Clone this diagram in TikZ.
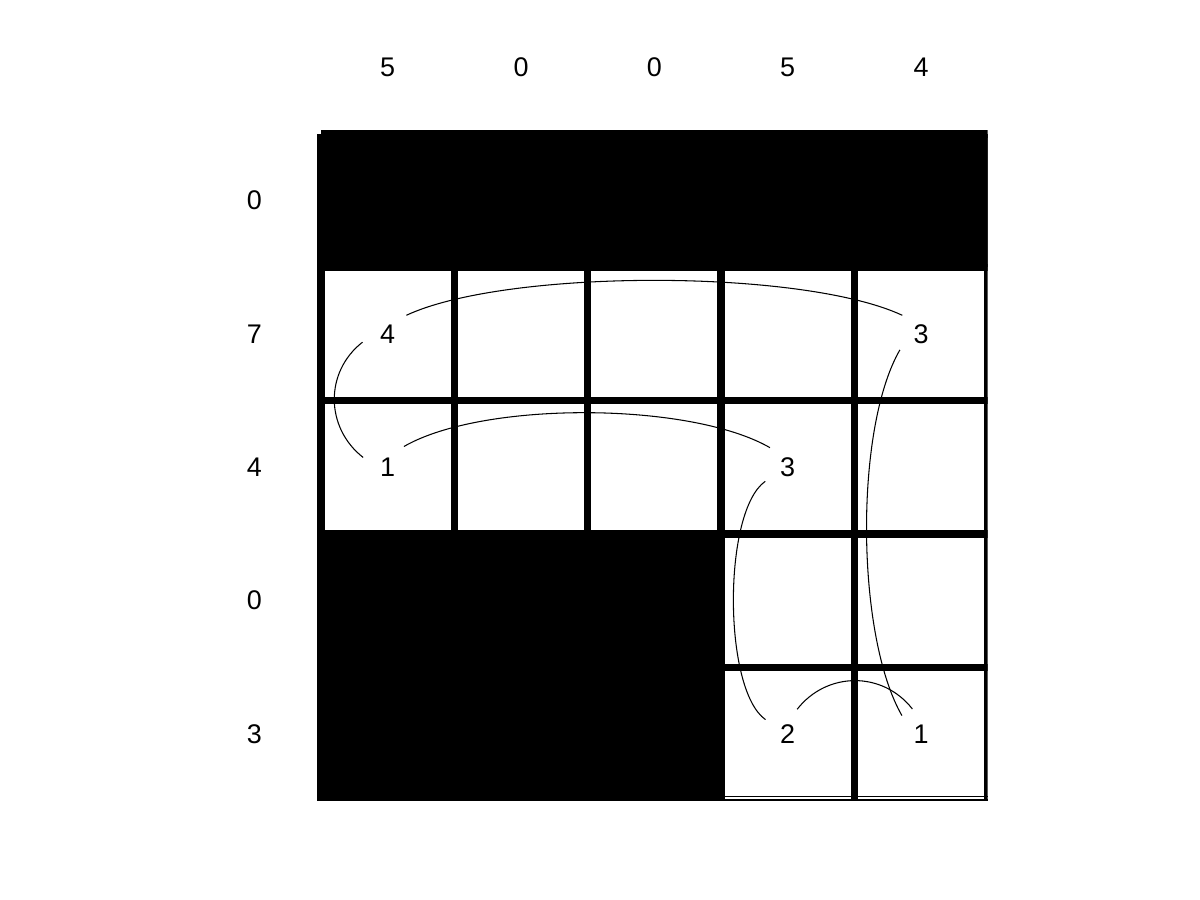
\documentclass[tikz,border=0pt]{standalone}
\usepackage{fontspec}
\setmainfont{Liberation Sans}

\begin{document}
\begin{tikzpicture}[x=2cm,y=2cm,
    num/.style={circle,minimum size=0.78cm,inner sep=0pt,font=\fontsize{11.5}{14}\selectfont},
    gridline/.style={line width=3.2pt},
    link/.style={line width=0.45pt}]
  \useasboundingbox (-1.9075,0.505) rectangle (7.0925,-6.245);
  % clues: top row and left column
  \foreach \i/\v in {1/5,2/0,3/0,4/5,5/4} \node[num] (col\i) at (\i,0) {\v};
  \foreach \j/\v in {1/0,2/7,3/4,4/0,5/3} \node[num] (row\j) at (0,-\j) {\v};
  % black cells, grid drawn over them
  \begin{scope}
    \clip (0.4,-0.4) rectangle (5.5,-5.5);
    \fill (0.5,-0.5) rectangle (5.5,-1.5);
    \fill (0.5,-3.5) rectangle (3.5,-5.5);
    \foreach \k in {0.5,1.5,...,5.5} \draw[gridline] (\k,-0.5) -- (\k,-5.5);
    \foreach \k in {0.5,1.5,...,4.5} \draw[gridline] (0.5,-\k) -- (5.5,-\k);
    \draw[gridline] (0.5,-5.5) -- (3.5,-5.5);
  \end{scope}
  % thin bottom edge under the last two columns
  \draw[line width=0.6pt] (3.5,-5.47) -- (5.5,-5.47);
  \draw[line width=0.9pt] (3.5,-5.495) -- (5.5,-5.495);
  % numbered cells
  \node[num] (r2c1) at (1,-2) {4};
  \node[num] (r2c5) at (5,-2) {3};
  \node[num] (r3c1) at (1,-3) {1};
  \node[num] (r3c4) at (4,-3) {3};
  \node[num] (r5c4) at (4,-5) {2};
  \node[num] (r5c5) at (5,-5) {1};
  % links between them
  \draw[link] (r2c1.45) to[out=25,in=155,looseness=0.57] (r2c5.135);
  \draw[link] (r2c1.198) to[out=218,in=142,looseness=1.07] (r3c1.158);
  \draw[link] (r3c1.52) to[out=30,in=150,looseness=0.64] (r3c4.132);
  \draw[link] (r3c4.212) to[out=215,in=145,looseness=0.56] (r5c4.147);
  \draw[link] (r2c5.217) to[out=240,in=120,looseness=0.64] (r5c5.136);
  \draw[link] (r5c4.69) to[out=52,in=128,looseness=1.07] (r5c5.109);
\end{tikzpicture}
\end{document}
